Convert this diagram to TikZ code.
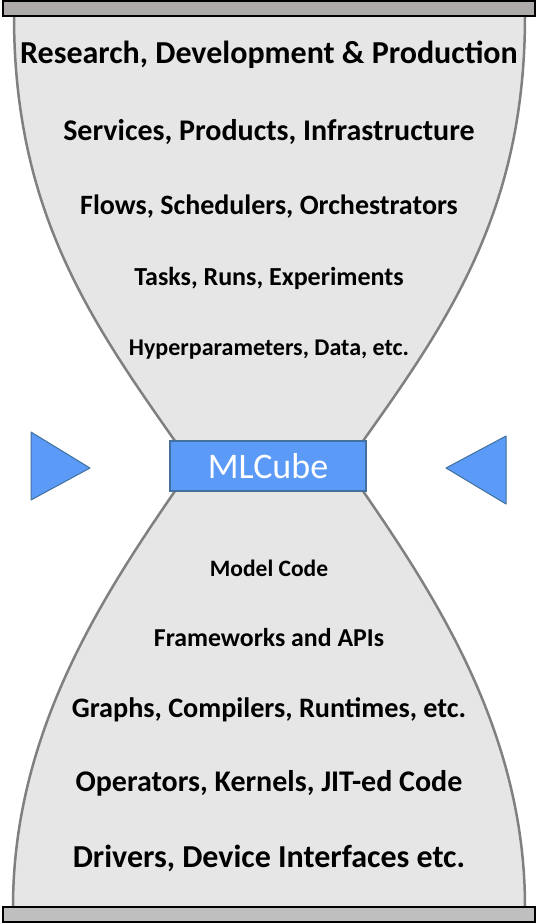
\documentclass[tikz,border=0pt]{standalone}
\usepackage{fontspec}
\setmainfont{Carlito}
\usepackage{tikz}
\usetikzlibrary{positioning}
\definecolor{glassfill}{HTML}{E7E6E6}
\definecolor{glassline}{HTML}{808080}
\definecolor{captop}{HTML}{AEAAAA}
\definecolor{capbot}{HTML}{BFBFBF}
\definecolor{cubeblue}{HTML}{5B9BF7}
\definecolor{cubeline}{HTML}{41719C}
\tikzset{layer/.style={inner sep=0pt,anchor=base},barstyle/.style={draw=black,line width=2pt},glass/.style={draw=glassline,line width=2.5pt},pointer/.style={draw=cubeline,fill=cubeblue,line width=1pt,line join=round},cube/.style={rectangle,draw=cubeline,fill=cubeblue,line width=1.5pt,text=white,minimum width=196pt,minimum height=50pt,inner sep=0pt}}
\begin{document}
\begin{tikzpicture}[x=1pt,y=-1pt]
\useasboundingbox (0,0) rectangle (538,924);
\fill[glassfill] (14,16) .. controls (14,210) and (90,320) .. (175,441) -- (175,491) .. controls (100,600) and (13,735) .. (13,907) -- (525,907) .. controls (525,735) and (438,600) .. (363,491) -- (363,441) .. controls (449,320) and (525,210) .. (525,16) -- cycle;
\draw[glass] (14,16) .. controls (14,210) and (90,320) .. (175,441);
\draw[glass] (525,16) .. controls (525,210) and (449,320) .. (363,441);
\draw[glass] (175,491) .. controls (100,600) and (13,735) .. (13,907);
\draw[glass] (363,491) .. controls (438,600) and (525,735) .. (525,907);
\draw[barstyle,fill=captop] (3,1) rectangle (535,16);
\draw[barstyle,fill=capbot] (3,907) rectangle (535,922);
\foreach \n/\y/\s/\t in {rdp/63/32/{Research, Development \& Production},spi/140/30/{Services, Products, Infrastructure},fso/214/28/{Flows, Schedulers, Orchestrators},tre/285/26/{Tasks, Runs, Experiments},hde/355/24/{Hyperparameters, Data, etc.},mc/576/23.5/{Model Code},fa/646/25.8/{Frameworks and APIs},gcr/717/28.2/{Graphs, Compilers, Runtimes, etc.},okj/791/30/{Operators, Kernels, JIT-ed Code},ddi/867/32/{Drivers, Device Interfaces etc.}}{\node[layer,font={\fontsize{\s}{\s}\selectfont\bfseries}] (\n) at (269,\y) {\t};}
\node[cube,font={\fontsize{36}{36}\selectfont}] (mlcube) at (268,466) {MLCube};
\draw[pointer] (31,432) -- (90,468) -- (31,500) -- cycle;
\draw[pointer] (506,436) -- (446,468) -- (506,504) -- cycle;
\end{tikzpicture}
\end{document}
